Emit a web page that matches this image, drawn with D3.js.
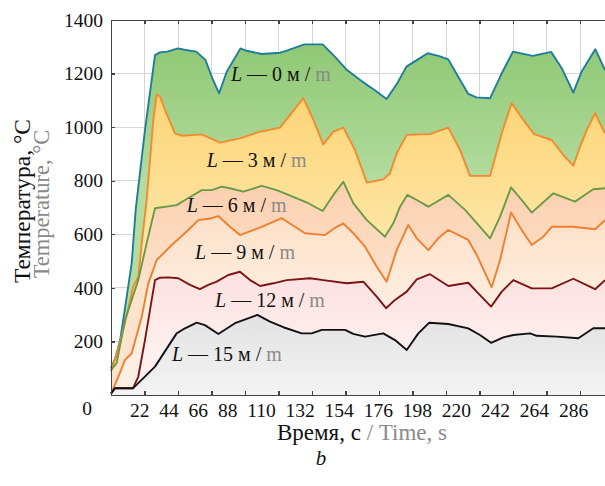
<!DOCTYPE html>
<meta charset="utf-8">
<style>
    body { margin: 0; background: #fff; }
    svg text { font-family: "Liberation Serif", "Times New Roman", serif !important; }
    .axis path, .axis line { stroke: #444; stroke-width: 1.2px; shape-rendering: crispEdges; }
    .axis text { font-size: 19.5px; fill: #111; }
    .grid line { stroke: #d6d6d6; stroke-width: 1px; shape-rendering: crispEdges; }
    .serie { fill: none; stroke-width: 1.9px; stroke-linejoin: round; }
    .lbl { font-size: 20px; fill: #111; }
    .en { fill: #8a8a8a; }
</style>
<body>
<svg></svg>

<script src="https://d3js.org/d3.v7.min.js"></script>
<script type='text/javascript'>

    // time (s), temperature (°C)
    var l0 = [[0,100],[3,140],[6,205],[9,317],[13.6,493],[16.2,691],[22.3,989],[28.9,1269],[32,1279],[37,1282],[44,1294],[49,1288],[56,1282],[62,1251],[67,1176],[71,1126],[76,1207],[85,1294],[89,1285],[99,1273],[111,1278],[115,1285],[127,1309],[139,1309],[147,1263],[155,1213],[165,1170],[173,1139],[181,1105],[188,1164],[194,1226],[201,1251],[208,1276],[215,1266],[221.5,1253],[228,1188],[234.6,1124],[240,1111],[249,1108],[256.6,1201],[264,1282],[277,1266],[289,1281],[296,1220],[303.6,1129],[309,1207],[318,1291],[324.4,1213]];
    var l3 = [[0,88],[4,160],[9,265],[14.6,404],[18,442],[20.2,567],[23.4,728],[27.8,1027],[30,1122],[32.2,1114],[35.5,1064],[42,977],[46.4,968],[59.6,973],[71.6,942],[84.7,958],[97.9,983],[111,998],[126.3,1108],[132.9,1027],[139.4,936],[146,983],[152.6,998],[160.2,915],[168,793],[178.8,805],[183.2,828],[187.6,902],[194.2,971],[209.5,974],[221.5,998],[229.2,915],[235.8,818],[248.9,818],[256.6,977],[263.1,1089],[270.8,1027],[277.8,974],[289.4,952],[297,896],[303.6,856],[308,927],[312.4,989],[317.9,1052],[324.4,977]];
    var l6 = [[0,93],[3.7,119],[9.2,280],[13.6,355],[17.9,429],[23.4,566],[28.9,697],[43.1,709],[48.6,728],[59.6,765],[66.1,765],[72.7,778],[78.1,772],[86.9,759],[99,781],[108.8,765],[119.7,740],[129.6,716],[139,687],[146,747],[152.6,796],[159.1,716],[168,653],[179.9,591],[185.4,641],[189.8,703],[194.6,747],[200.8,728],[208.4,703],[221.5,747],[232.5,691],[241.2,635],[248.9,585],[255.5,666],[262.7,775],[269.7,728],[276.3,681],[290.5,753],[304.7,722],[316.7,768],[324.4,772]];
    var l9 = [[0,5],[4.8,68],[9.2,131],[13.6,156],[20.2,292],[24.5,417],[30,504],[39.9,560],[50.8,616],[57.3,653],[61.7,656],[66.1,660],[70.5,668],[78.1,628],[84.7,597],[99,628],[112.1,660],[120.8,628],[127.4,604],[140.5,597],[148.2,628],[152.6,641],[159.1,604],[166.8,554],[174.5,479],[181,423],[187.6,541],[195.2,635],[200.8,585],[208.4,541],[214.9,585],[221.5,616],[234.6,579],[240.2,523],[250,402],[255.5,504],[262.7,681],[269.7,616],[276.3,560],[283.9,591],[289.4,628],[303.6,628],[317.9,619],[324.4,653]];
    var l12 = [[0,5],[2.6,25],[14.4,25],[17.9,68],[22.3,205],[28.9,429],[32.2,438],[37.6,439],[44.2,436],[51.9,411],[58.4,395],[63.9,411],[69.4,423],[77,448],[84.7,460],[91.3,429],[97.9,407],[106.6,417],[115.4,429],[130.7,436],[139.4,429],[154.8,417],[165.7,423],[174.5,367],[180.6,324],[186.5,355],[194.2,386],[200.8,432],[209.5,451],[221.5,407],[234.6,419],[242.3,373],[249.6,330],[256.6,386],[264.2,429],[276.3,398],[289.4,398],[303.6,434],[317.9,395],[324.4,429]];
    var l15 = [[0,5],[2.6,25],[14.4,25],[28.9,106],[43.1,230],[48.6,249],[56.3,270],[61.7,261],[70.5,228],[81.4,268],[96.1,299],[104.4,274],[113.2,253],[125.2,230],[131.8,230],[138.4,243],[153.7,243],[159.1,228],[166.8,218],[178.8,230],[186.5,205],[194.2,168],[201.8,230],[209,270],[221.5,265],[234.6,249],[242.3,224],[249.6,195],[257.6,215],[264.2,224],[275.2,230],[279.6,221],[292.7,218],[306.9,212],[316.7,249],[324.4,249]];

    var depths = ['0', '3', '6', '9', '12', '15'];
    var xTicks = [22, 44, 66, 88, 110, 132, 154, 176, 198, 220, 242, 264, 286, 308];
    var xLabels = ['22', '44', '66', '88', '110', '132', '154', '176', '198', '220', '242', '264', '286'];
    var yTicks = [0, 200, 400, 600, 800, 1000, 1200, 1400];

    var lineCols = ['#1f7d9c', '#f4892f', '#6a9a48', '#ef7f2e', '#7c1416', '#111111'];
    var topCols  = ['#8fc874', '#fdd475', '#fbcfae', '#fde0c6', '#fde0e0', '#e2e2e2'];
    var botCols  = ['#b4dc9f', '#fde6a6', '#fde3cc', '#fdefe2', '#fdf0ee', '#f4f4f4'];
    // label anchor (time, temperature) of each "L — x м / m"
    var lblPos = [[78.8, 1172], [62.8, 852], [49.7, 684], [55.2, 507], [68.3, 330], [40, 128]];

    var series = [l0, l3, l6, l9, l12, l15];

    var W = 605, H = 486;
    var svg = d3.select('svg').attr('width', W).attr('height', H);

    var x = d3.scaleLinear().domain([0, 324.4]).range([111, 605]);
    var y = d3.scaleLinear().domain([0, 1400]).range([395, 20]);

    // grid
    var grid = svg.append('g').attr('class', 'grid');
    grid.selectAll('.vx').data(xTicks).enter().append('line')
        .attr('x1', function(d) { return x(d); }).attr('x2', function(d) { return x(d); })
        .attr('y1', y(0)).attr('y2', y(1400));
    grid.selectAll('.hy').data(yTicks.slice(1, -1)).enter().append('line')
        .attr('x1', x(0)).attr('x2', x(324.4))
        .attr('y1', function(d) { return y(d); }).attr('y2', function(d) { return y(d); });

    // gradients
    var defs = svg.append('defs');
    series.forEach(function(s, i) {
        var next = series[i + 1];
        var lo = next ? d3.min(next.filter(function(d) { return d[0] > 30; }), function(d) { return d[1]; }) : 0;
        var g = defs.append('linearGradient')
            .attr('id', 'grad' + i)
            .attr('gradientUnits', 'userSpaceOnUse')
            .attr('x1', 0).attr('x2', 0)
            .attr('y1', y(d3.max(s, function(d) { return d[1]; })))
            .attr('y2', y(lo));
        g.append('stop').attr('offset', 0).attr('stop-color', topCols[i]);
        g.append('stop').attr('offset', 1).attr('stop-color', botCols[i]);
    });

    var area = d3.area()
        .x(function(d) { return x(d[0]); })
        .y0(y(0))
        .y1(function(d) { return y(d[1]); });
    var line = d3.line()
        .x(function(d) { return x(d[0]); })
        .y(function(d) { return y(d[1]); });

    svg.append('g').selectAll('path').data(series).enter().append('path')
        .attr('d', area)
        .attr('fill', function(d, i) { return 'url(#grad' + i + ')'; });

    svg.append('g').selectAll('path').data(series).enter().append('path')
        .attr('class', 'serie')
        .attr('d', line)
        .attr('stroke', function(d, i) { return lineCols[i]; });

    // series labels
    var lbl = svg.append('g').selectAll('text').data(depths).enter().append('text')
        .attr('class', 'lbl')
        .attr('x', function(d, i) { return x(lblPos[i][0]); })
        .attr('y', function(d, i) { return y(lblPos[i][1]); });
    lbl.append('tspan').style('font-style', 'italic').text('L');
    lbl.append('tspan').text(function(d) { return ' \u2014 ' + d + ' м / '; });
    lbl.append('tspan').attr('class', 'en').text('m');

    // axes
    svg.append('g').attr('class', 'axis')
        .attr('transform', 'translate(0,' + y(1400) + ')')
        .call(d3.axisTop(x).tickValues(xTicks).tickSizeInner(-4).tickSizeOuter(0).tickFormat(''));

    svg.append('g').attr('class', 'axis')
        .attr('transform', 'translate(0,' + y(0) + ')')
        .call(d3.axisBottom(x).tickValues(xTicks).tickSizeInner(-4).tickSizeOuter(0).tickFormat(''));

    var yAxis = svg.append('g').attr('class', 'axis')
        .attr('transform', 'translate(' + x(0) + ',0)')
        .call(d3.axisLeft(y).tickValues(yTicks).tickSizeInner(-4).tickSizeOuter(0).tickPadding(8)
            .tickFormat(d3.format('d')));
    yAxis.selectAll('.tick').filter(function(d) { return d === 0; }).select('text')
        .attr('x', -19).attr('dy', '1em');
    yAxis.selectAll('.tick').filter(function(d) { return d === 0; }).select('line').remove();

    // x tick labels, written as one run of text
    var xl = svg.append('text')
        .attr('x', 130).attr('y', 417)
        .style('font-size', '19.5px').attr('fill', '#111');
    xl.selectAll('tspan').data(xLabels).enter().append('tspan')
        .attr('dx', function(d, i) { return i ? 9.8 : 0; })
        .text(function(d) { return d; });

    // titles
    var xt = svg.append('text')
        .attr('x', 362).attr('y', 440)
        .attr('text-anchor', 'middle')
        .style('font-size', '23px').attr('fill', '#111');
    xt.append('tspan').text('Время, с');
    xt.append('tspan').attr('class', 'en').text(' / Time, s');

    svg.append('text')
        .attr('x', 321).attr('y', 465)
        .attr('text-anchor', 'middle')
        .style('font-size', '21px').style('font-style', 'italic')
        .attr('fill', '#111')
        .text('b');

    svg.append('text')
        .attr('transform', 'translate(30,201)rotate(-90)')
        .attr('text-anchor', 'middle')
        .style('font-size', '23.5px').attr('fill', '#111')
        .text('Температура, °С');

    svg.append('text')
        .attr('transform', 'translate(49,204)rotate(-90)')
        .attr('text-anchor', 'middle')
        .style('font-size', '22.5px').attr('class', 'en')
        .text('Temperature, °C');

</script>
